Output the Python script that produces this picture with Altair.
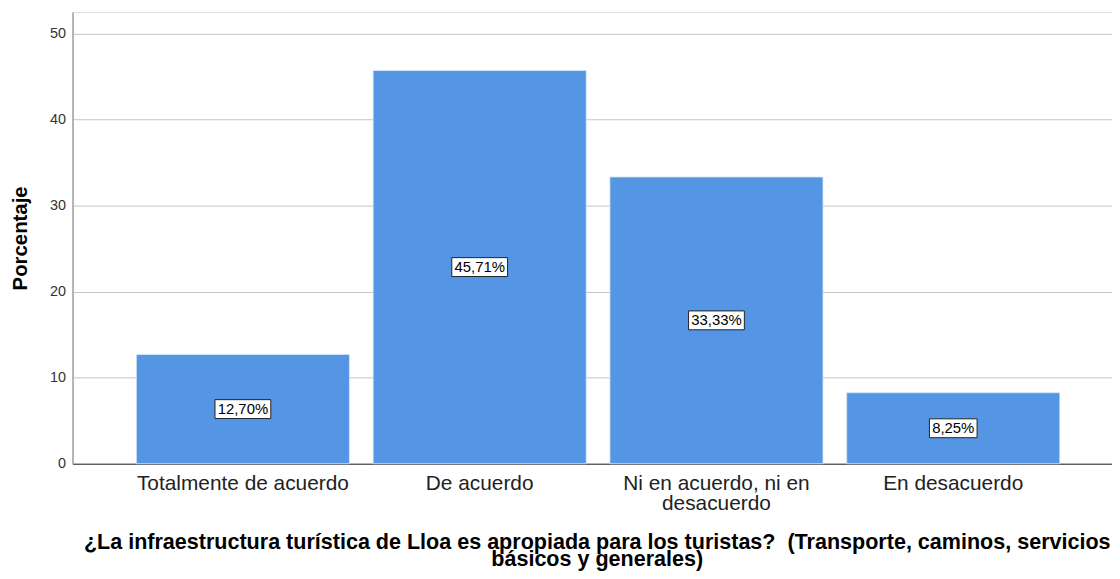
import altair as alt
import pandas as pd

categories = ["Totalmente de acuerdo", "De acuerdo", "Ni en acuerdo, ni en desacuerdo", "En desacuerdo"]
values = [12.70, 45.71, 33.33, 8.25]
value_labels = ["12,70%", "45,71%", "33,33%", "8,25%"]
y_ticks = [0, 10, 20, 30, 40, 50]
x_title = ["¿La infraestructura turística de Lloa es apropiada para los turistas?\u00a0 (Transporte, caminos, servicios",
           "básicos y generales)"]
y_title = "Porcentaje"

df = pd.DataFrame({"cat": categories, "val": values, "lab": value_labels})

FONT = "Liberation Sans"

x_enc = alt.X(
    "cat:N",
    sort=categories,
    scale=alt.Scale(paddingInner=0.1, paddingOuter=0.245, align=0.55),
    axis=alt.Axis(
        title=x_title,
        labelAngle=0,
        labelFontSize=21,
        labelFont=FONT,
        labelColor="#222222",
        labelPadding=9,
        labelLimit=400,
        labelLineHeight=20,
        labelExpr="datum.label == 'Ni en acuerdo, ni en desacuerdo' ? ['Ni en acuerdo, ni en', 'desacuerdo'] : datum.label",
        ticks=False,
        tickSize=0,
        domainColor="#333333",
        domainWidth=1,
        titleFont=FONT,
        titleFontSize=21.7,
        titleFontWeight="bold",
        titleColor="#000000",
        titleLineHeight=17,
        titleY=68,
        titleX=528,
        titleBaseline="top",
        grid=False,
    ),
)

y_scale = alt.Scale(domain=[0, 52.5], nice=False, zero=True)

bars = alt.Chart(df).mark_bar(color="#5596E4", stroke="#DCE8F8", strokeWidth=0.8).encode(
    x=x_enc,
    y=alt.Y(
        "val:Q",
        scale=y_scale,
        axis=alt.Axis(
            title=y_title,
            values=y_ticks,
            labelFontSize=14.5,
            labelFont=FONT,
            labelColor="#333333",
            labelPadding=7,
            ticks=False,
            tickSize=0,
            domainColor="#A0A0A0",
            domainWidth=1.5,
            gridColor="#C4C4C4",
            gridWidth=1,
            titleFont=FONT,
            titleFontSize=20.5,
            titleFontWeight="bold",
            titleColor="#000000",
            titlePadding=19,
        ),
    ),
)

boxes = alt.Chart(df).transform_calculate(
    mid="datum.val / 2",
    w="length(datum.lab) * 8.2 + 7",
).transform_calculate(
    hh="19 / datum.w",
).transform_calculate(
    shp="'M-1,' + (-datum.hh) + 'L1,' + (-datum.hh) + 'L1,' + datum.hh + 'L-1,' + datum.hh + 'Z'",
    sz="datum.w * datum.w",
).mark_point(filled=True, fill="white", stroke="#222222", strokeWidth=1, opacity=1).encode(
    x=alt.X("cat:N", sort=categories),
    y=alt.Y("mid:Q", scale=y_scale),
    shape=alt.Shape("shp:N", scale=None),
    size=alt.Size("sz:Q", scale=None),
)

texts = alt.Chart(df).transform_calculate(
    mid="datum.val / 2"
).mark_text(font=FONT, fontSize=15, color="#000000", baseline="middle", dy=0).encode(
    x=alt.X("cat:N", sort=categories),
    y=alt.Y("mid:Q", scale=y_scale),
    text="lab:N",
)

chart = alt.layer(bars, boxes, texts).properties(
    width=1047,
    height=455,
    autosize=alt.AutoSizeParams(type="none"),
    padding={"left": 65, "top": 2, "right": 0, "bottom": 106},
).configure_view(stroke=None).configure(background="white")

chart.save("out.html", embed_options={"renderer": "svg", "actions": False})
